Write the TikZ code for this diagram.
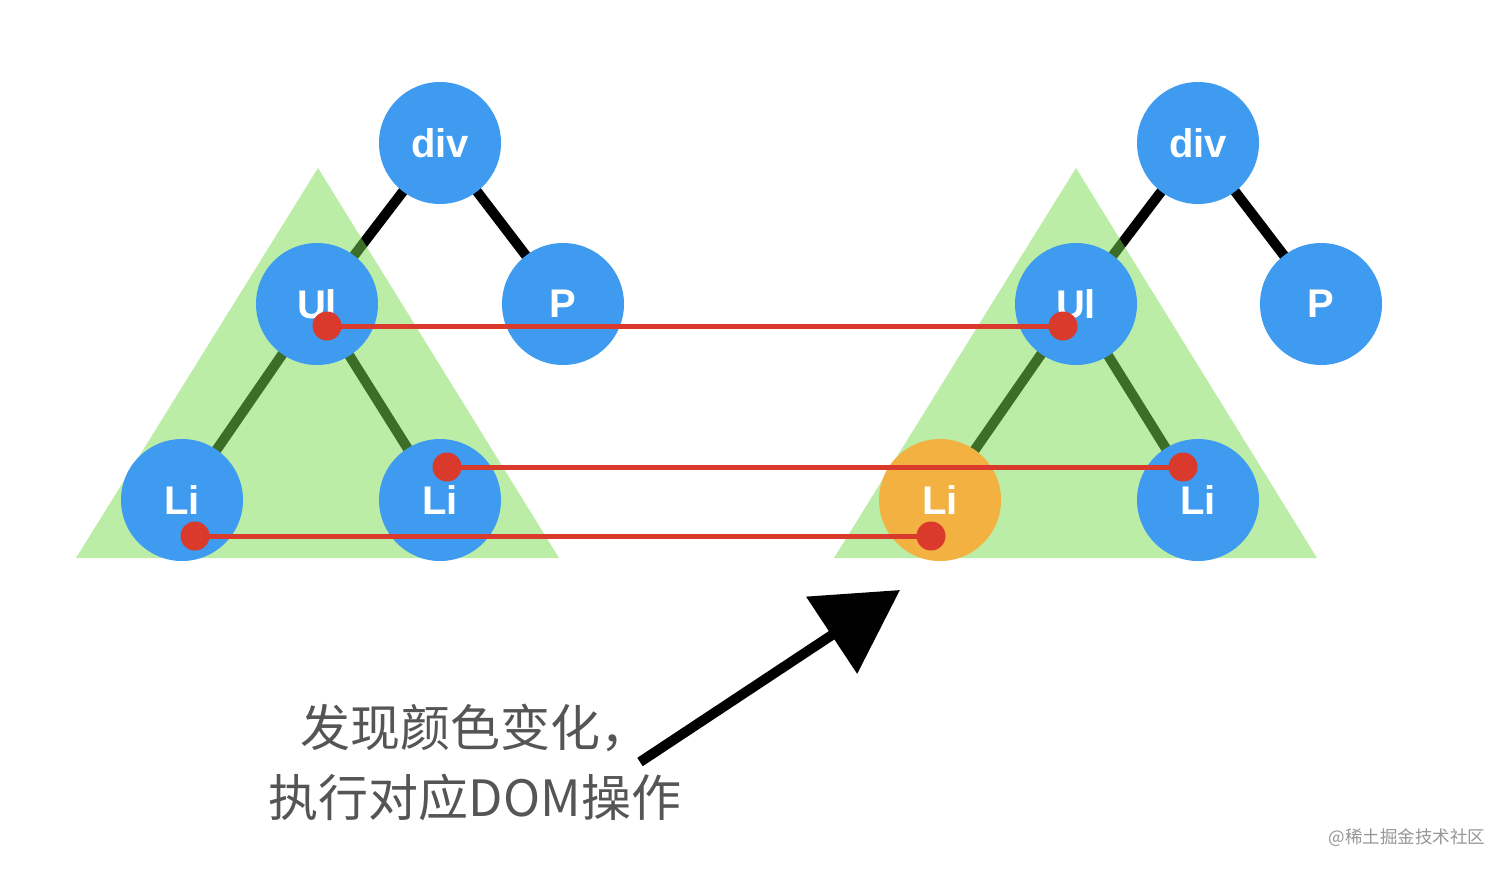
\documentclass[tikz,border=0pt]{standalone}
\usepackage{fontspec}
\setmainfont{Liberation Sans}
\newfontfamily\cjk{Noto Sans CJK SC}
\usetikzlibrary{arrows.meta}
\definecolor{nodeblue}{RGB}{62,155,240}
\definecolor{nodeorange}{RGB}{242,177,64}
\definecolor{trigreen}{RGB}{120,220,80}
\definecolor{linered}{RGB}{217,58,43}
\definecolor{textgray}{RGB}{85,85,85}
\definecolor{markgray}{RGB}{150,150,150}
\tikzset{
  treenode/.style={circle,fill=nodeblue,minimum size=122pt,inner sep=0pt,text=white,font=\bfseries\fontsize{40}{40}\selectfont},
  changednode/.style={treenode,fill=nodeorange},
  treeedge/.style={line width=10pt,black},
  subtree/.style={fill=trigreen,opacity=0.5},
  reddot/.style={circle,fill=linered,minimum size=29pt,inner sep=0pt},
  redline/.style={linered,line width=5pt},
  hint/.style={text=textgray,font=\cjk\fontsize{50}{70}\selectfont,align=center},
}
\begin{document}
\begin{tikzpicture}[x=1pt,y=-1pt]
\useasboundingbox[fill=white] (0,0) rectangle (1512,871);
% left tree coordinates
\coordinate (Ldiv) at (440,143);
\coordinate (LUl) at (317,304);
\coordinate (LP) at (563,304);
\coordinate (LLi1) at (182,500);
\coordinate (LLi2) at (440,500);
% right tree coordinates
\coordinate (Rdiv) at (1198,143);
\coordinate (RUl) at (1076,304);
\coordinate (RP) at (1321,304);
\coordinate (RLi1) at (940,500);
\coordinate (RLi2) at (1198,500);
% edges
\draw[treeedge] (Ldiv) -- (LUl);
\draw[treeedge] (Ldiv) -- (LP);
\draw[treeedge] (LUl) -- (LLi1);
\draw[treeedge] (LUl) -- (LLi2);
\draw[treeedge] (Rdiv) -- (RUl);
\draw[treeedge] (Rdiv) -- (RP);
\draw[treeedge] (RUl) -- (RLi1);
\draw[treeedge] (RUl) -- (RLi2);
% subtree triangles
\fill[subtree] (318,168) -- (559,558) -- (76,558) -- cycle;
\fill[subtree] (1076,168) -- (1317,558) -- (834,558) -- cycle;
% nodes
\node[treenode] (ndivL) at (Ldiv) {div};
\node[treenode] (nUlL) at (LUl) {Ul};
\node[treenode] (nPL) at (LP) {P};
\node[treenode] (nLi1L) at (LLi1) {Li};
\node[treenode] (nLi2L) at (LLi2) {Li};
\node[treenode] (ndivR) at (Rdiv) {div};
\node[treenode] (nUlR) at (RUl) {Ul};
\node[treenode] (nPR) at (RP) {P};
\node[changednode] (nLi1R) at (RLi1) {Li};
\node[treenode] (nLi2R) at (RLi2) {Li};
% red comparison dots and lines
\node[reddot] (a1) at (327,326) {};
\node[reddot] (b1) at (1063,326) {};
\node[reddot] (a2) at (447,467) {};
\node[reddot] (b2) at (1183,467) {};
\node[reddot] (a3) at (195,536) {};
\node[reddot] (b3) at (931,536) {};
\draw[redline] (a1.center) -- (b1.center);
\draw[redline] (a2.center) -- (b2.center);
\draw[redline] (a3.center) -- (b3.center);
% arrow
\coordinate (arrS) at (640,762);
\coordinate (arrT) at (900,590);
\draw[line width=10pt,black,-{Triangle[length=82pt,width=90pt]}] (arrS) -- (arrT);
% caption
\node[hint] (cap) at (475,762) {发现颜色变化，\\执行对应DOM操作};
\node[text=markgray,font=\cjk\fontsize{17.5}{17.5}\selectfont,anchor=east] (mark) at (1489,838) {@稀土掘金技术社区};
\end{tikzpicture}
\end{document}
